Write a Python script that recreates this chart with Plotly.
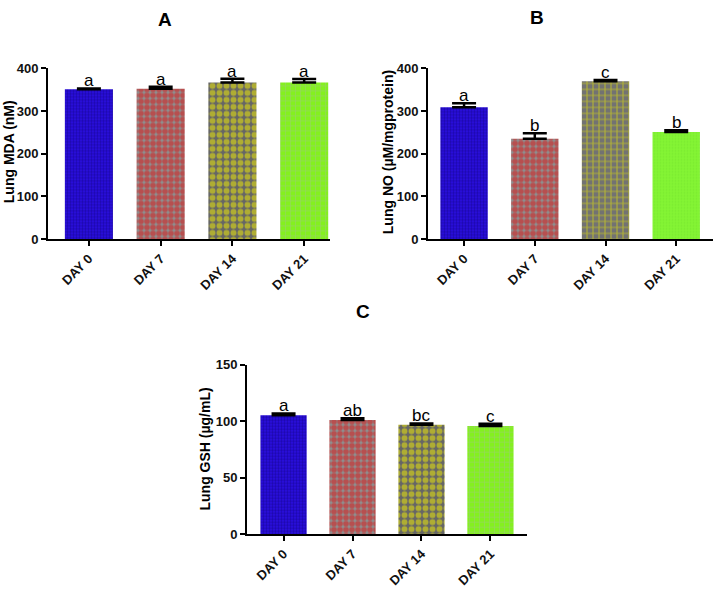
import plotly.graph_objects as go

categories = ["DAY 0", "DAY 7", "DAY 14", "DAY 21"]

mda_mean = [351, 352, 367, 367]
mda_sem = [2, 5, 9, 8]
mda_letters = ["a", "a", "a", "a"]

no_mean = [309, 235, 370, 251]
no_sem = [9, 13, 3, 4]
no_letters = ["a", "b", "c", "b"]

gsh_mean = [105.2, 101.1, 96.9, 95.7]
gsh_sem = [1.7, 1.5, 1.1, 2.0]
gsh_letters = ["a", "ab", "bc", "c"]

FONT = "Liberation Sans, Arial, sans-serif"

blue = dict(shape=".", fg="#0c0070", bg="#2c10e6", size=3, solidity=0.5)
redchk = dict(shape=".", fg="#e01010", bg="#8e8e8e", size=6, solidity=0.7)
yeldot = dict(shape=".", fg="#f8f400", bg="#666666", size=7, solidity=0.55)
grnbrick = dict(shape="+", fg="#a8baa0", bg="#84f020", size=5, solidity=0.25)
yelbrick = dict(shape="+", fg="#ecec00", bg="#727272", size=6, solidity=0.35)
grnplain = dict(shape=".", fg="#72e02c", bg="#84f534", size=3, solidity=0.3)

fig = go.Figure()

panels = [
    dict(mean=mda_mean, sem=mda_sem, letters=mda_letters, xa="x", ya="y",
         patterns=[blue, redchk, yeldot, grnbrick]),
    dict(mean=no_mean, sem=no_sem, letters=no_letters, xa="x2", ya="y2",
         patterns=[blue, redchk, yelbrick, grnplain]),
    dict(mean=gsh_mean, sem=gsh_sem, letters=gsh_letters, xa="x3", ya="y3",
         patterns=[blue, redchk, yeldot, grnbrick]),
]

annotations = []
for p in panels:
    for i, (m, s, lab, pt) in enumerate(zip(p["mean"], p["sem"], p["letters"], p["patterns"])):
        fig.add_trace(go.Bar(
            x=[i], y=[m], width=0.67,
            marker=dict(color=pt["bg"], line=dict(width=0),
                        pattern=dict(shape=pt["shape"], fgcolor=pt["fg"], bgcolor=pt["bg"],
                                     size=pt["size"], solidity=pt["solidity"],
                                     fillmode="overlay")),
            error_y=dict(type="data", symmetric=False, array=[s], arrayminus=[0],
                         color="black", thickness=2.5, width=12),
            xaxis=p["xa"], yaxis=p["ya"], showlegend=False, hoverinfo="skip",
        ))
        annotations.append(dict(x=i, y=m + s, xref=p["xa"], yref=p["ya"], text=lab,
                                showarrow=False, yanchor="bottom", yshift=-4,
                                font=dict(family=FONT, size=17, color="black")))

W, H = 714, 590


def xd(a, b):
    return [a / W, b / W]


def yd(top, bot):
    return [(H - bot) / H, (H - top) / H]


tickfont = dict(family=FONT, size=13, color="#111", weight="bold")
common_x = dict(showline=True, linecolor="black", linewidth=2, ticks="outside", ticklen=5,
                tickwidth=2, tickcolor="black", tickangle=-45, tickfont=tickfont,
                tickvals=list(range(len(categories))), ticktext=categories,
                showgrid=False, zeroline=False, fixedrange=True)
common_y = dict(showline=True, linecolor="black", linewidth=2, ticks="outside", ticklen=5,
                tickwidth=2, tickcolor="black", tickfont=tickfont, showgrid=False,
                zeroline=False, fixedrange=True)

fig.update_layout(
    width=W, height=H, margin=dict(l=0, r=0, t=0, b=0),
    paper_bgcolor="white", plot_bgcolor="white", barmode="overlay",
    xaxis=dict(common_x, domain=xd(48, 330), range=[-0.57, 3.36], anchor="y"),
    yaxis=dict(common_y, domain=yd(63, 238), range=[0, 400], dtick=100, anchor="x"),
    xaxis2=dict(common_x, domain=xd(428, 713), range=[-0.51, 3.52], anchor="y2"),
    yaxis2=dict(common_y, domain=yd(63, 238), range=[0, 400], dtick=100, anchor="x2"),
    xaxis3=dict(common_x, domain=xd(247, 527), range=[-0.53, 3.53], anchor="y3"),
    yaxis3=dict(common_y, domain=yd(367, 541), range=[0, 150], dtick=50, anchor="x3"),
)

titlefont = dict(family=FONT, size=19, color="black", weight="bold")
axtitlefont = dict(family=FONT, size=14, color="black", weight="bold")
for txt, x, y in [("A", 165, 13), ("B", 537, 11), ("C", 363, 312)]:
    annotations.append(dict(x=x / W, y=1 - y / H, xref="paper", yref="paper", text=txt,
                            showarrow=False, xanchor="center", yanchor="middle", font=titlefont))
for txt, x, y in [("Lung MDA (nM)", 9, 149), ("Lung NO (µM/mgprotein)", 388, 149),
                  ("Lung GSH (µg/mL)", 205, 453)]:
    annotations.append(dict(x=x / W, y=1 - y / H, xref="paper", yref="paper", text=txt,
                            showarrow=False, textangle=-90, xanchor="center",
                            yanchor="middle", font=axtitlefont))

fig.update_layout(annotations=annotations)
post = (
    "document.documentElement.style.margin='0';document.body.style.margin='0';"
    "document.documentElement.style.overflow='hidden';document.body.style.overflow='hidden';"
)
fig.write_html("out.html", post_script=post, config={"displayModeBar": False})
